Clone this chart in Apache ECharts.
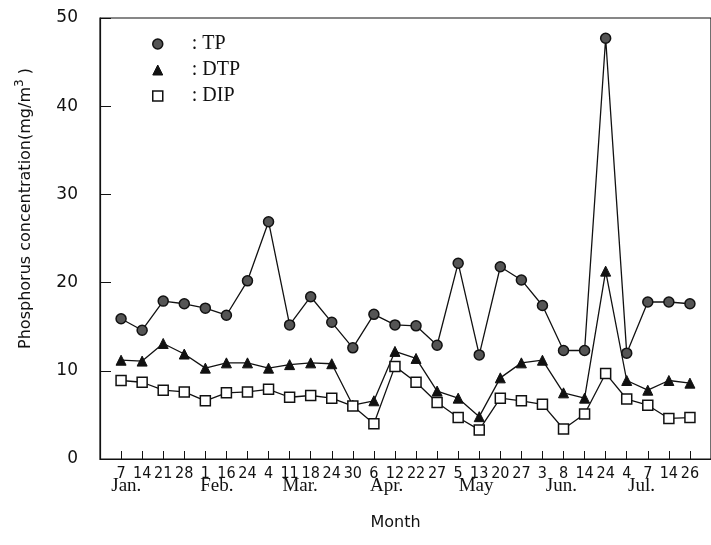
<!DOCTYPE html>
<html><head><meta charset="utf-8">
<script src="https://cdn.jsdelivr.net/npm/echarts@6/dist/echarts.min.js"></script>
<style>html,body{margin:0;padding:0;background:#fff}#c{width:711px;height:545px}</style>
</head><body><div id="c"></div>
<script>
const dayLabels = ['7','14','21','28','1','16','24','4','11','18','24','30','6','12','22','27','5','13','20','27','3','8','14','24','4','7','14','26'];
const monthLabels = ['Jan.','Feb.','Mar.','Apr.','May','Jun.','Jul.'];
const monthAt = [0.25,4.55,8.5,12.6,16.85,20.9,24.7];
const tp  = [15.9,14.6,17.9,17.6,17.1,16.3,20.2,26.9,15.2,18.4,15.5,12.6,16.4,15.2,15.1,12.9,22.2,11.8,21.8,20.3,17.4,12.3,12.3,47.7,12.0,17.8,17.8,17.6];
const dtp = [11.2,11.1,13.1,11.9,10.3,10.9,10.9,10.3,10.7,10.9,10.8,6.1,6.6,12.2,11.4,7.7,6.9,4.8,9.2,10.9,11.2,7.5,6.9,21.3,8.9,7.8,8.9,8.6];
const dip = [8.9,8.7,7.8,7.6,6.6,7.5,7.6,7.9,7.0,7.2,6.9,6.0,4.0,10.5,8.7,6.4,4.7,3.3,6.9,6.6,6.2,3.4,5.1,9.7,6.8,6.1,4.6,4.7];
const yTicks = [0,10,20,30,40,50];

const idx = dayLabels.map((_, i) => i);
const pts = arr => arr.map((v, i) => [i, v]);
const sans = 'DejaVu Sans';
const lineStyle = {color: '#111', width: 1.3};

const chart = echarts.init(document.getElementById('c'), null, {renderer: 'canvas'});
chart.setOption({
  animation: false,
  backgroundColor: '#fff',
  grid: {left: 100, right: 0, top: 18, bottom: 86, show: true, borderColor: '#111', borderWidth: 1.2, backgroundColor: 'transparent'},
  legend: {
    orient: 'vertical', left: 147, top: 29, itemWidth: 10, itemHeight: 10, itemGap: 6,
    textStyle: {fontFamily: 'Liberation Serif', fontSize: 20, color: '#111', lineHeight: 20, padding: [0, 0, 0, 24]},
    formatter: n => ': ' + n,
    data: [
      {name: 'TP', icon: 'circle', itemStyle: {color: '#555', borderColor: '#111', borderWidth: 1.5}},
      {name: 'DTP', icon: 'triangle', itemStyle: {color: '#111', borderColor: '#111', borderWidth: 1}},
      {name: 'DIP', icon: 'rect', itemStyle: {color: '#fff', borderColor: '#111', borderWidth: 1.5}}
    ]
  },
  xAxis: [{
    type: 'value', min: -1, max: 28, interval: 1,
    name: 'Month', nameLocation: 'middle', nameGap: 56,
    nameTextStyle: {fontFamily: sans, fontSize: 16, color: '#111', padding: [0, 20, 0, 0]},
    axisLine: {lineStyle: {color: '#111', width: 1.2}},
    axisTick: {inside: true, length: 8, customValues: idx, lineStyle: {color: '#111'}},
    axisLabel: {customValues: idx, formatter: v => dayLabels[v], margin: 7,
      fontFamily: 'Liberation Sans Narrow, DejaVu Sans Condensed, sans-serif', fontSize: 16, color: '#111'},
    splitLine: {show: false}
  }, {
    type: 'value', min: -1, max: 28, position: 'bottom',
    axisLine: {show: false}, axisTick: {show: false}, splitLine: {show: false},
    axisLabel: {customValues: monthAt, formatter: v => monthLabels[monthAt.indexOf(v)], margin: 18,
      fontFamily: 'Liberation Serif', fontSize: 19, color: '#111'}
  }],
  yAxis: {
    type: 'value', min: 0, max: 50, interval: 10,
    name: 'Phosphorus concentration(mg/m{sup|3} )', nameLocation: 'middle', nameGap: 62,
    nameTextStyle: {fontFamily: sans, fontSize: 16, color: '#111', padding: [0, 0, 0, 60],
      rich: {sup: {fontFamily: sans, fontSize: 12, color: '#111', padding: [0, 0, 12, 0]}}},
    axisLine: {show: true, onZero: false, lineStyle: {color: '#111', width: 1.2}},
    axisTick: {inside: true, length: 11, lineStyle: {color: '#111'}},
    axisLabel: {margin: 22, fontFamily: sans, fontSize: 17, color: '#111', formatter: v => yTicks.includes(v) ? String(v) : ''},
    splitLine: {show: false}
  },
  series: [
    {name: 'TP', type: 'line', data: pts(tp), symbol: 'circle', symbolSize: 10, lineStyle,
      itemStyle: {color: '#555', borderColor: '#111', borderWidth: 1.5}, z: 3},
    {name: 'DTP', type: 'line', data: pts(dtp), symbol: 'triangle', symbolSize: 10, lineStyle,
      itemStyle: {color: '#111', borderColor: '#111', borderWidth: 1}, z: 4},
    {name: 'DIP', type: 'line', data: pts(dip), symbol: 'rect', symbolSize: 10, lineStyle,
      itemStyle: {color: '#fff', borderColor: '#111', borderWidth: 1.5}, z: 5}
  ]
});
</script></body></html>
